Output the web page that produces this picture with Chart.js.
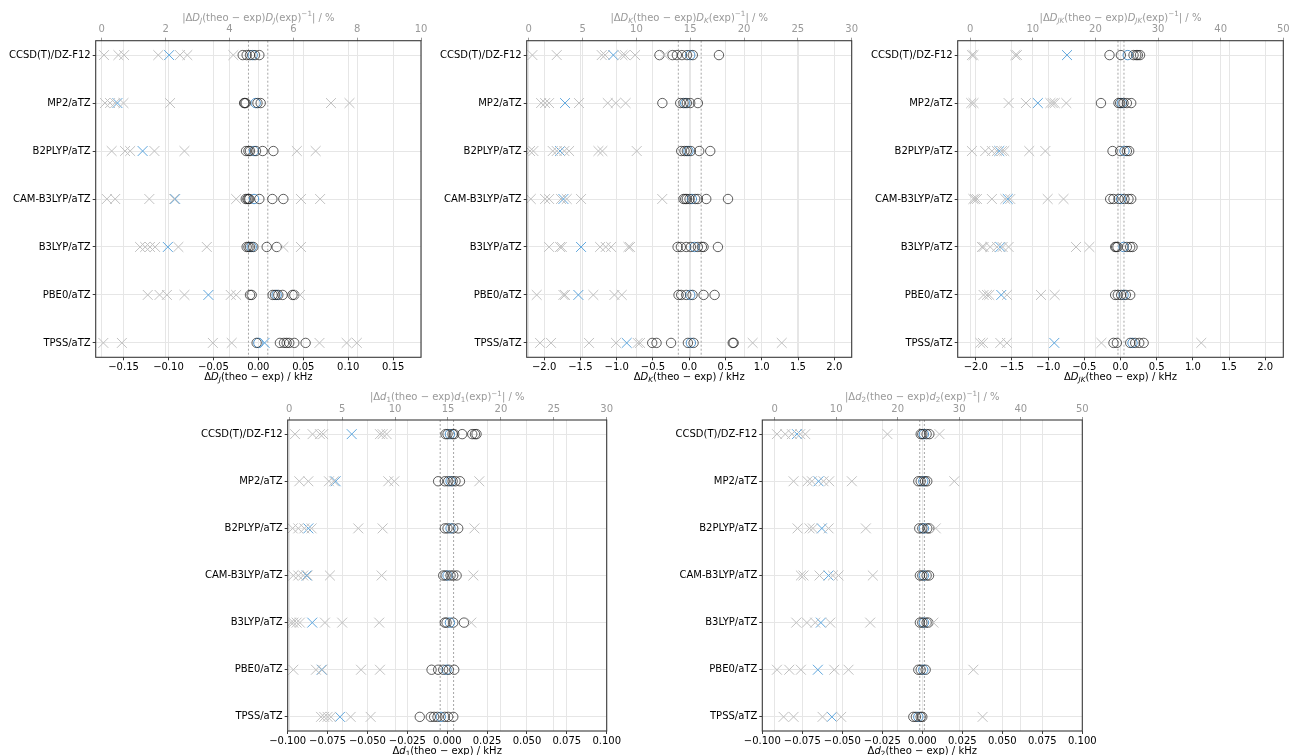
<!DOCTYPE html>
<html><head><meta charset="utf-8">
<script src="https://cdn.jsdelivr.net/npm/chart.js@4.4.0/dist/chart.umd.min.js"></script>
<style>
html,body{margin:0;padding:0;background:#fff;overflow:hidden;width:1289px;height:755px;}
canvas{position:absolute;}
</style></head><body>
<canvas id="c1"></canvas><canvas id="c2"></canvas><canvas id="c3"></canvas><canvas id="c4"></canvas><canvas id="c5"></canvas>
<script>
const methods = ['CCSD(T)/DZ-F12','MP2/aTZ','B2PLYP/aTZ','CAM-B3LYP/aTZ','B3LYP/aTZ','PBE0/aTZ','TPSS/aTZ'];

// ---- D_J : deviations (kHz) and relative deviations (%) ----
const DJ_circles = [
  [-0.0174,-0.013,-0.0093,-0.0037,0.0011],
  [-0.0158,-0.0152,-0.014,-0.001,0.0026],
  [-0.0137,-0.011,-0.0093,-0.0026,0.0048,0.0167],
  [-0.014,-0.0122,-0.011,-0.01,0.0011,0.0156,0.0278],
  [-0.013,-0.011,-0.0093,-0.0056,0.0093,0.0204],
  [-0.0093,-0.0074,0.0159,0.0185,0.0222,0.027,0.038,0.04],
  [-0.0019,0.024,0.0285,0.0315,0.0344,0.04,0.0526]
];
const DJ_circleBlue = [-0.0063,-0.003,-0.0048,-0.0048,-0.0074,0.0204,0.0];
const DJ_crosses = [
  [0.07,0.52,0.70,1.77,2.45,2.68,4.12],
  [0.10,0.26,0.42,0.68,2.14,7.18,7.76],
  [0.31,0.73,0.89,1.65,2.59,6.11,6.70],
  [0.16,0.42,1.49,2.27,4.21,6.24,6.84],
  [1.20,1.36,1.51,1.67,2.40,3.29,5.69,6.24],
  [1.44,1.81,2.04,2.59,4.04,4.21,6.21],
  [0.05,0.63,3.48,4.07,6.82,7.67,7.99]
];
const DJ_crossBlue = [2.11,0.49,1.28,2.30,2.07,3.34,5.10];
const DJ_limits = [-0.011,0.0105];

// ---- D_K ----
const DK_circles = [
  [-0.41,-0.23,-0.17,-0.10,-0.03,0.05,0.41],
  [-0.37,-0.124,-0.078,-0.032,0.014,0.12],
  [-0.11,-0.065,-0.032,0.023,0.138,0.29],
  [-0.078,-0.055,-0.032,0.005,0.083,0.12,0.235,0.535],
  [-0.16,-0.115,-0.041,0.023,0.12,0.175,0.198,0.396],
  [-0.147,-0.11,-0.041,0.046,0.198,0.35],
  [-0.51,-0.45,-0.25,-0.018,0.06,0.6,0.613]
];
const DK_circleBlue = [0.014,-0.055,-0.01,0.037,0.074,0.014,0.023];
const DK_crosses = [
  [0.34,2.6,6.78,7.09,8.7,8.95,9.88,12.6],
  [1.15,1.52,1.89,4.67,7.34,8.08,9.0],
  [0.12,0.43,2.23,2.6,3.31,3.75,6.47,6.84,10.03],
  [0.19,1.52,1.89,3.0,3.53,4.86,12.4],
  [1.89,2.91,3.07,6.63,7.15,7.65,9.26,9.41],
  [0.74,3.22,3.37,6.0,7.96,8.64],
  [1.05,2.07,5.6,8.11,10.12,10.34,20.8,23.5]
];
const DK_crossBlue = [7.86,3.37,2.91,3.22,4.86,4.61,9.1];
const DK_limits = [-0.15,0.165];

// ---- D_JK ----
const DJK_circles = [
  [-0.152,0.005,0.18,0.217,0.24,0.27],
  [-0.27,-0.028,-0.005,0.042,0.088,0.148],
  [-0.11,-0.005,0.088,0.12],
  [-0.143,-0.097,-0.028,0.055,0.11,0.148],
  [-0.074,-0.06,-0.042,0.088,0.134,0.166],
  [-0.074,-0.037,0.009,0.074,0.134],
  [-0.097,-0.05,0.134,0.203,0.259,0.32]
];
const DJK_circleBlue = [0.10,0.018,0.055,0.009,0.042,0.042,0.166];
const DJK_crosses = [
  [0.27,0.53,7.2,7.46],
  [0.16,0.53,6.13,8.9,12.8,13.17,13.5,15.35],
  [0.27,2.4,3.46,4.26,5.06,5.44,9.43,12.0],
  [0.5,0.75,1.07,3.46,5.6,6.4,12.37,14.9],
  [1.87,2.13,3.2,4.26,5.17,6.13,16.9,19.03],
  [2.13,2.67,3.04,5.86,11.3,13.49],
  [1.6,2.03,4.8,5.86,20.95,36.9]
];
const DJK_crossBlue = [15.46,10.8,4.64,6.0,4.8,4.96,13.43];
const DJK_limits = [-0.035,0.048];

// ---- d_1 ----
const d1_circles = [
  [-0.001,0.0002,0.0034,0.0044,0.0094,0.0157,0.0174,0.0184],
  [-0.0057,-0.0015,0.0006,0.0034,0.0052,0.008],
  [-0.0015,0.0002,0.0038,0.0069],
  [-0.0025,-0.001,0.0021,0.0038,0.0059],
  [-0.0015,-0.0004,0.0038,0.0105],
  [-0.0098,-0.0057,-0.0025,0.001,0.0044],
  [-0.0172,-0.0103,-0.0082,-0.0061,-0.0015,0.0006,0.0038]
];
const d1_circleBlue = [0.0017,0.0021,0.0021,0.0002,0.0017,-0.0004,-0.004];
const d1_crosses = [
  [0.54,2.2,2.9,3.2,8.57,8.82,9.2],
  [0.95,1.8,3.75,4.22,9.36,9.93,17.96],
  [0.32,0.85,1.42,2.11,6.52,8.82,17.5],
  [0.38,0.85,1.32,1.73,3.84,8.73,17.4],
  [0.16,0.38,0.69,1.0,3.37,5.0,8.5,17.2],
  [0.38,2.52,3.12,6.78,8.57],
  [3.0,3.3,3.62,3.94,5.8,7.69]
];
const d1_crossBlue = [5.9,4.38,1.8,1.64,2.17,3.06,4.79];
const d1_limits = [-0.0044,0.004];

// ---- d_2 ----
const d2_circles = [
  [-0.001,0,0.0027,0.0044],
  [-0.0025,-0.001,0.0017,0.0031],
  [-0.0019,0,0.0031,0.0044],
  [-0.0015,0,0.0027,0.0042],
  [-0.0015,0,0.0027,0.0038],
  [-0.0025,-0.001,0.0021],
  [-0.0056,-0.004,-0.001,0]
];
const d2_circleBlue = [0.001,0.0006,0.001,0.001,0.001,0.0006,-0.0025];
const d2_crosses = [
  [0.38,1.73,2.81,4.17,4.98,18.34,26.79],
  [3.08,5.36,6.06,7.95,8.87,12.55,29.2],
  [3.73,5.68,6.22,8.77,14.83,26.19],
  [4.27,4.7,7.3,9.47,10.39,15.96],
  [3.52,5.25,6.6,9.04,15.53,25.81],
  [0.38,2.38,4.27,9.69,12.01,32.3],
  [1.46,3.08,7.79,10.82,33.8]
];
const d2_crossBlue = [3.63,7.14,7.68,8.77,7.52,7.03,9.31];
const d2_limits = [-0.0016,0.0013];

// tick labels
const ticksDJ = [-0.15,-0.10,-0.05,0,0.05,0.10,0.15];
const ticksDK = [-2.0,-1.5,-1.0,-0.5,0,0.5,1.0,1.5,2.0];
const ticksd = [-0.100,-0.075,-0.050,-0.025,0,0.025,0.050,0.075,0.100];
const ticksPct10 = [0,2,4,6,8,10];
const ticksPct30 = [0,5,10,15,20,25,30];
const ticksPct50 = [0,10,20,30,40,50];

const FONT = "'DejaVu Sans', sans-serif";
const MINUS = '\u2212';
function fmt(v, dec){ const s = Math.abs(v).toFixed(dec); return (v < -1e-12 ? MINUS : '') + s; }
function pts(rows){ const out=[]; rows.forEach((r,i)=>(Array.isArray(r)?r:[r]).forEach(v=>out.push({x:v,y:i}))); return out; }

function richDraw(ctx, segs, cx, cy, size, color){
  const items = segs.map(s=>{
    const fs = s.s ? size*0.72 : size;
    const font = (s.i ? 'italic ' : '') + fs + 'px ' + FONT;
    ctx.font = font;
    return {t:s.t, font, w:ctx.measureText(s.t).width, dy: s.s==='sub' ? size*0.3 : (s.s==='sup' ? -size*0.38 : 0)};
  });
  const total = items.reduce((a,b)=>a+b.w,0);
  let x = cx - total/2;
  ctx.save(); ctx.fillStyle=color; ctx.textBaseline='middle'; ctx.textAlign='left';
  items.forEach(it=>{ ctx.font=it.font; ctx.fillText(it.t,x,cy+it.dy); x+=it.w; });
  ctx.restore();
}

const deco = {
  id:'deco',
  beforeDatasetsDraw(chart){
    const p = chart.options.plugins.deco; const a = chart.chartArea; const ctx = chart.ctx;
    const sx = chart.scales.x;
    ctx.save(); ctx.strokeStyle='#a6a6a6'; ctx.lineWidth=1; ctx.setLineDash([2,2]);
    p.limits.forEach(v=>{ const px = sx.getPixelForValue(v); ctx.beginPath(); ctx.moveTo(px,a.top); ctx.lineTo(px,a.bottom); ctx.stroke(); });
    ctx.restore();
  },
  afterDraw(chart){
    const p = chart.options.plugins.deco; const a = chart.chartArea; const ctx = chart.ctx;
    ctx.save(); ctx.strokeStyle='#3a3a3a'; ctx.lineWidth=1.1; ctx.strokeRect(a.left,a.top,a.right-a.left,a.bottom-a.top); ctx.restore();
    const cx = (a.left+a.right)/2;
    const sub = {t:p.sub, i:p.subItalic, s:'sub'};
    const sym = {t:p.sym, i:true};
    richDraw(ctx, [{t:'Δ'},sym,sub,{t:'(theo − exp) / kHz'}], cx, a.bottom+20, 10, '#000');
    richDraw(ctx, [{t:'|Δ'},sym,sub,{t:'(theo − exp)'},sym,sub,{t:'(exp)'},{t:'−1',s:'sup'},{t:'| / %'}], cx, a.top-22.5, 10, '#999');
  }
};

function makePanel(cfg){
  const cv = document.getElementById(cfg.id);
  cv.width = cfg.w; cv.height = cfg.h;
  cv.style.left = cfg.left+'px'; cv.style.top = cfg.top+'px';
  const gridBase = {color:'#e6e6e6', lineWidth:1, tickColor:'#3a3a3a', tickLength:3, drawTicks:true};
  new Chart(cv, {
    type:'scatter',
    data:{ datasets:[
      {data:pts(cfg.crosses), xAxisID:'x2', yAxisID:'y', pointStyle:'crossRot', pointRadius:7, borderWidth:1, borderColor:'#c0c0c0', backgroundColor:'#c0c0c0'},
      {data:pts(cfg.circles), xAxisID:'x', yAxisID:'y', pointStyle:'circle', pointRadius:4.7, borderWidth:1, borderColor:'rgba(35,35,35,0.72)', backgroundColor:'rgba(0,0,0,0)'},
      {data:pts(cfg.crossBlue), xAxisID:'x2', yAxisID:'y', pointStyle:'crossRot', pointRadius:7, borderWidth:1, borderColor:'#5ea6dd', backgroundColor:'#5ea6dd'},
      {data:pts(cfg.circleBlue), xAxisID:'x', yAxisID:'y', pointStyle:'circle', pointRadius:4.7, borderWidth:1, borderColor:'#4f93cc', backgroundColor:'rgba(0,0,0,0)'}
    ]},
    options:{
      responsive:false, animation:false, devicePixelRatio:1,
      layout:{padding:{left:0, right:cfg.padR, top:0, bottom:0}},
      plugins:{legend:{display:false}, tooltip:{enabled:false},
        deco:{limits:cfg.limits, sym:cfg.sym, sub:cfg.sub, subItalic:cfg.subItalic}},
      scales:{
        x:{type:'linear', position:'bottom', min:cfg.xMin, max:cfg.xMax,
          afterBuildTicks:s=>{s.ticks=cfg.xTicks.map(v=>({value:v}));},
          afterFit:s=>{s.height=cfg.botH;},
          ticks:{autoSkip:false, maxRotation:0, minRotation:0, padding:1, color:'#000', font:{family:FONT,size:10}, callback:v=>fmt(v,cfg.xDec)},
          grid:gridBase, border:{display:false}},
        x2:{type:'linear', position:'top', min:cfg.x2Min, max:cfg.x2Max,
          afterBuildTicks:s=>{s.ticks=cfg.x2Ticks.map(v=>({value:v}));},
          afterFit:s=>{s.height=cfg.topH;},
          ticks:{autoSkip:false, maxRotation:0, minRotation:0, padding:2, color:'#999', font:{family:FONT,size:10}, callback:v=>String(v)},
          grid:Object.assign({}, gridBase, {tickColor:'#999'}), border:{display:false}},
        y:{type:'linear', position:'left', reverse:true, min:-0.3, max:6.3,
          afterBuildTicks:s=>{s.ticks=methods.map((m,i)=>({value:i}));},
          afterFit:s=>{s.width=cfg.yW;},
          ticks:{autoSkip:false, padding:2, color:'#000', font:{family:FONT,size:10}, callback:v=>methods[Math.round(v)]},
          grid:gridBase, border:{display:false}}
      }
    },
    plugins:[deco]
  });
}

makePanel({id:'c1', left:0, top:0, w:440, h:390, yW:95.7, topH:40.7, botH:390-357.3, padR:440-421,
  xMin:-0.181, xMax:0.181, xTicks:ticksDJ, xDec:2, x2Min:-0.19, x2Max:10, x2Ticks:ticksPct10,
  circles:DJ_circles, circleBlue:DJ_circleBlue, crosses:DJ_crosses, crossBlue:DJ_crossBlue, limits:DJ_limits,
  sym:'D', sub:'J', subItalic:true});
makePanel({id:'c2', left:430, top:0, w:440, h:390, yW:96.7, topH:40.7, botH:390-357.3, padR:870-851.7,
  xMin:-2.24, xMax:2.24, xTicks:ticksDK, xDec:1, x2Min:-0.19, x2Max:30, x2Ticks:ticksPct30,
  circles:DK_circles, circleBlue:DK_circleBlue, crosses:DK_crosses, crossBlue:DK_crossBlue, limits:DK_limits,
  sym:'D', sub:'K', subItalic:true});
makePanel({id:'c3', left:860, top:0, w:445, h:390, yW:97.7, topH:40.7, botH:390-357.3, padR:1305-1283.3,
  xMin:-2.25, xMax:2.25, xTicks:ticksDK, xDec:1, x2Min:-2, x2Max:50, x2Ticks:ticksPct50,
  circles:DJK_circles, circleBlue:DJK_circleBlue, crosses:DJK_crosses, crossBlue:DJK_crossBlue, limits:DJK_limits,
  sym:'D', sub:'JK', subItalic:true});
makePanel({id:'c4', left:190, top:385, w:440, h:370, yW:97.7, topH:35, botH:24, padR:630-606.7,
  xMin:-0.1, xMax:0.1, xTicks:ticksd, xDec:3, x2Min:-0.15, x2Max:30, x2Ticks:ticksPct30,
  circles:d1_circles, circleBlue:d1_circleBlue, crosses:d1_crosses, crossBlue:d1_crossBlue, limits:d1_limits,
  sym:'d', sub:'1', subItalic:false});
makePanel({id:'c5', left:665, top:385, w:440, h:370, yW:97.3, topH:35, botH:24, padR:1105-1082.3,
  xMin:-0.1, xMax:0.1, xTicks:ticksd, xDec:3, x2Min:-2, x2Max:50, x2Ticks:ticksPct50,
  circles:d2_circles, circleBlue:d2_circleBlue, crosses:d2_crosses, crossBlue:d2_crossBlue, limits:d2_limits,
  sym:'d', sub:'2', subItalic:false});
</script>
</body></html>
